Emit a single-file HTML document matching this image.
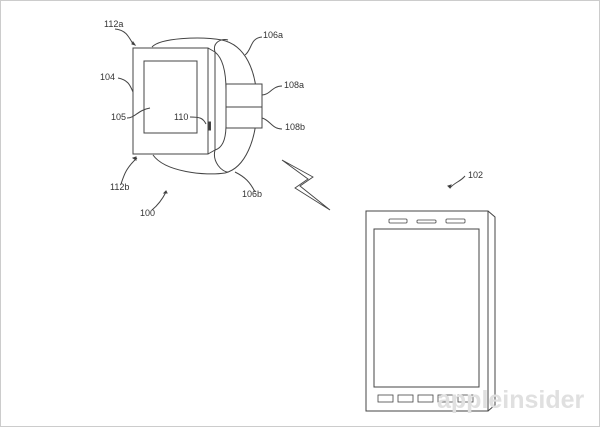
<!DOCTYPE html><html><head><style>body{margin:0;background:#fff}svg{display:block}text{font-family:"Liberation Sans",sans-serif;font-size:9px;fill:#333}</style></head><body>
<svg width="600" height="427" viewBox="0 0 600 427" fill="none" stroke="#444" stroke-width="1">
<rect x="0.5" y="0.5" width="599" height="426" stroke="#ccc"/>
<!-- band -->
<path d="M152,47 C160,38 200,36 222,40 C245,45 257,70 257,105 C257,140 245,168 225,173 C205,176 165,172 153,155"/>
<path d="M215,52 C212,42 222,38 228,40 M215,150 C212,162 222,172 228,172"/>
<path d="M215,52 C225,60 226,80 226,90 M226,125 C226,140 222,148 215,150"/>
<path d="M215,52 L208,48 M208,154 L215,150 L215,52"/>
<rect x="133" y="48" width="75" height="106" fill="#fff"/>
<rect x="144" y="61" width="53" height="72"/>
<rect x="226" y="84" width="36" height="44" fill="#fff"/>
<line x1="226" y1="107" x2="262" y2="107"/>
<rect x="209" y="122" width="1.5" height="8" fill="#333"/>
<!-- leaders -->
<path d="M115,29 C125,30 128,35 133,44 M262,37 C250,38 252,50 245,55 M118,78 C128,80 130,85 133,92 M282,86 C272,86 270,95 262,95 M127,118 C135,118 138,110 150,108 M190,117 C200,117 203,118 206,124 M282,129 C272,129 270,120 262,118 M121,184 C124,175 126,168 137,158 M255,192 C250,182 245,177 235,172 M152,210 C158,205 162,200 166,192 M465,176 C460,182 455,182 450,188"/>
<path d="M132,44 l3,1 -2,-3z M136,157 l-3,1 3,2z M166,191 l-2,2 3,0z M450,188 l1,-3 -3,1z" fill="#333"/>
<!-- lightning -->
<path d="M282,160 L313,177 L300,186 L330,210 L295,188 L308,179 Z" stroke-width="0.9"/>
<!-- phone -->
<path d="M488,211 L495,217 L495,405 L488,411"/>
<rect x="366" y="211" width="122" height="200"/>
<rect x="374" y="229" width="105" height="158"/>
<g stroke-width="0.8"><rect x="389" y="219" width="18" height="4" rx="1"/><rect x="417" y="220" width="19" height="3" rx="1"/><rect x="446" y="219" width="19" height="4" rx="1"/>
<rect x="378" y="395" width="15" height="7"/><rect x="398" y="395" width="15" height="7"/><rect x="418" y="395" width="15" height="7"/><rect x="438" y="395" width="15" height="7"/><rect x="458" y="395" width="15" height="7"/></g>
<g stroke="none">
<text x="104" y="27">112a</text><text x="263" y="38">106a</text><text x="100" y="80">104</text><text x="284" y="88">108a</text>
<text x="111" y="120">105</text><text x="174" y="120">110</text><text x="285" y="130">108b</text><text x="110" y="190">112b</text>
<text x="242" y="197">106b</text><text x="140" y="216">100</text><text x="468" y="178">102</text>
<text x="437" y="408" style="font-size:25px;fill:#e0e0e0;font-weight:bold">appleinsider</text></g>
</svg></body></html>
